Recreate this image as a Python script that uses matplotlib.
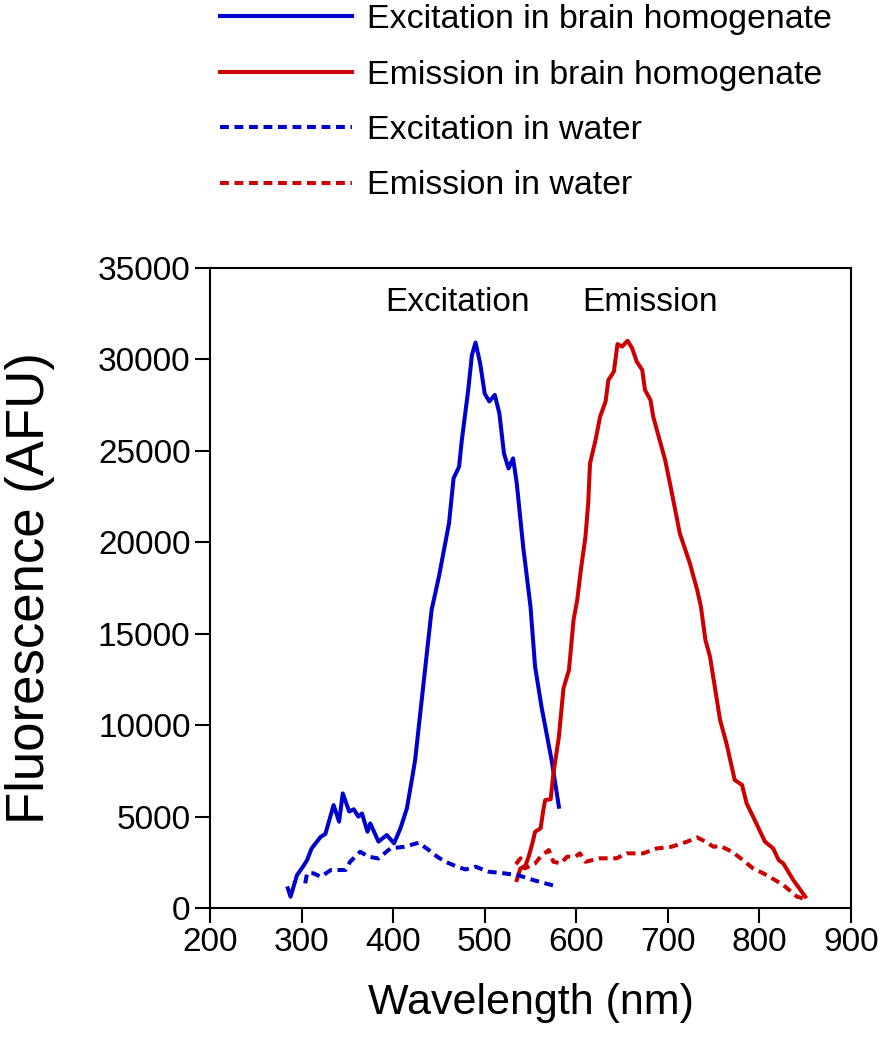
import matplotlib
matplotlib.use("Agg")
import matplotlib.pyplot as plt

plt.rcParams['font.family'] = ['Liberation Sans', 'DejaVu Sans']

# Excitation in brain homogenate
ex_brain_wl = [285, 288, 295, 301, 306, 311, 321, 326, 335, 341,
               345, 352, 357, 362, 366, 372, 375, 384, 393, 401,
               408, 415, 421, 424, 442, 450, 461, 466,
               472, 475, 482, 486, 490, 495, 500, 505, 511, 516,
               521, 526, 531, 535, 542, 550, 555, 562, 573, 581]
ex_brain = [1080, 620, 1800, 2220, 2620, 3260, 3900, 4050, 5630, 4720,
            6270, 5280, 5400, 5000, 5170, 4170, 4630, 3630, 3990, 3540,
            4360, 5450, 7180, 8090, 16300, 18120, 21040, 23500,
            24130, 25590, 28330, 30240, 30920, 29790, 28130, 27700, 28060, 27050,
            24860, 24040, 24590, 23220, 19760, 16480, 13200, 11010, 8100, 5540]

# Emission in brain homogenate
em_brain_wl = [535, 539, 544, 548, 552, 555, 561, 564, 566, 572,
               575, 581, 586, 592, 597, 601, 605, 610, 613, 615,
               621, 626, 632, 635, 641, 645, 650, 656, 661, 666,
               672, 675, 681, 684, 692, 697, 703, 708, 713, 724,
               732, 736, 741, 746, 757, 764, 773, 781, 786, 793,
               806, 815, 821, 826, 837, 850]
em_brain = [1530, 2170, 2260, 2810, 3540, 4170, 4360, 5360, 5900, 5950,
            7360, 9370, 12010, 13020, 15750, 16840, 18500, 20300, 22130, 24320,
            25590, 26870, 27700, 28870, 29330, 30840, 30700, 31020, 30610, 29880,
            29420, 28330, 27780, 26870, 25410, 24500, 23040, 21770, 20490, 18850,
            17390, 16500, 14660, 13740, 10280, 9000, 7000, 6730, 5720, 5000,
            3630, 3260, 2620, 2440, 1530, 620]

# Excitation in water
ex_water_wl = [304, 306, 313, 321, 332, 348, 353, 364, 373, 384, 397, 412,
               428, 439, 448, 457, 470, 479, 490, 504, 521, 535, 542, 553, 575]
ex_water = [1350, 1900, 1900, 1710, 2080, 2080, 2530, 3080, 2810, 2710, 3260, 3350,
            3570, 3170, 2810, 2530, 2260, 2110, 2260, 1990, 1900, 1800, 1710, 1530, 1230]

# Emission in water
em_water_wl = [534, 539, 544, 555, 561, 570, 575, 583, 590, 599, 604, 610,
               626, 644, 655, 673, 688, 704, 721, 732, 739, 750, 757, 770,
               781, 793, 808, 826, 841, 848]
em_water = [2400, 2720, 2170, 2440, 2810, 3170, 2530, 2440, 2810, 2810, 2990, 2530,
            2720, 2720, 2990, 2990, 3260, 3350, 3630, 3860, 3680, 3350, 3400, 3080,
            2660, 2170, 1800, 1260, 620, 530]

blue = '#0000CC'
red = '#CC0000'

fig = plt.figure(figsize=(8.83, 10.5), dpi=100)
ax = fig.add_axes([0.2378, 0.1352, 0.7260, 0.6096])

ax.plot(ex_brain_wl, ex_brain, color=blue, lw=2.9, label="Excitation in brain homogenate")
ax.plot(em_brain_wl, em_brain, color=red, lw=2.9, label="Emission in brain homogenate")
ax.plot(ex_water_wl, ex_water, color=blue, lw=2.9, dashes=(2.2, 1.4),
        label="Excitation in water")
ax.plot(em_water_wl, em_water, color=red, lw=2.9, dashes=(2.2, 1.4),
        label="Emission in water")

ax.set_xlim(200, 900)
ax.set_ylim(0, 35000)
ax.set_xticks(range(200, 901, 100))
ax.set_yticks(range(0, 35001, 5000))
ax.tick_params(direction='out', length=11, width=1.5, labelsize=24, pad=3,
               top=False, right=False)
for s in ax.spines.values():
    s.set_linewidth(1.5)

ax.set_xlabel("Wavelength (nm)", fontsize=31, va='center')
ax.xaxis.set_label_coords(0.5, -0.148)
ax.set_ylabel("Fluorescence (AFU)", fontsize=38, va='center')
ax.yaxis.set_label_coords(-0.28, 0.5)

ax.text(470, 33100, "Excitation", fontsize=24, ha='center', va='center')
ax.text(680, 33100, "Emission", fontsize=24, ha='center', va='center')

fig.legend(loc='upper left', bbox_to_anchor=(0.249, 0.996), frameon=False,
           borderpad=0, borderaxespad=0, fontsize=24.4, handlelength=3.9,
           handletextpad=0.44, labelspacing=0.72)

plt.savefig("out.png", dpi=100)
